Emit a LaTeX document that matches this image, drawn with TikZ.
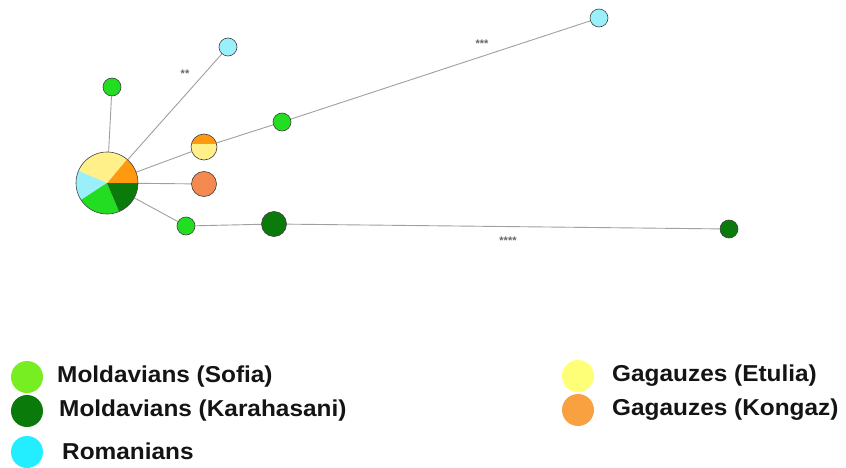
\documentclass[tikz,border=0pt]{standalone}
\usepackage{fontspec}
\setmainfont{Liberation Sans}
\usetikzlibrary{backgrounds}
\definecolor{sofia}{HTML}{22DD22}
\definecolor{sofiaL}{HTML}{77EE22}
\definecolor{kara}{HTML}{0A7A0A}
\definecolor{roman}{HTML}{99F0FA}
\definecolor{romanL}{HTML}{22EEFF}
\definecolor{etul}{HTML}{FFF08A}
\definecolor{etulL}{HTML}{FFFF77}
\definecolor{kong}{HTML}{FF9A10}
\definecolor{kongN}{HTML}{F58A50}
\definecolor{kongL}{HTML}{F9A040}
\definecolor{edgec}{HTML}{A0A0A0}
\tikzset{
  hap/.style={circle, draw=black!75, line width=0.6pt, inner sep=0pt, minimum size=#1},
  edge/.style={draw=edgec, line width=0.9pt},
  star/.style={font=\fontsize{11}{11}\selectfont\bfseries, text=black!60},
  legdot/.style={circle, inner sep=0pt, minimum size=32pt},
  legtxt/.style={anchor=west, font=\fontsize{23}{23}\selectfont\bfseries, text=black!92, xscale=1.06, inner sep=0pt}
}
\begin{document}
\begin{tikzpicture}[x=1pt,y=-1pt]
\useasboundingbox (0,0) rectangle (846,468);
% pie slices
\coordinate (pc) at (107,183);
\fill[kong] (pc) -- ++(0:31) arc (0:-50:31) -- cycle;
\fill[etul] (pc) -- ++(-50:31) arc (-50:-157:31) -- cycle;
\fill[roman] (pc) -- ++(-157:31) arc (-157:-213:31) -- cycle;
\fill[sofia] (pc) -- ++(-213:31) arc (-213:-293:31) -- cycle;
\fill[kara] (pc) -- ++(-293:31) arc (-293:-360:31) -- cycle;
\node[hap=62pt] (pie) at (pc) {};
% half node
\coordinate (hc) at (204,147);
\fill[etul] (hc) circle (13);
\begin{scope}
\clip (191,130) rectangle (217,144);
\fill[kong] (hc) circle (13);
\end{scope}
\node[hap=26pt] (half) at (hc) {};
% other nodes
\node[hap=18pt, fill=sofia] (g1) at (112,87) {};
\node[hap=18pt, fill=roman] (c1) at (228,47) {};
\node[hap=18pt, fill=sofia] (g2) at (282,122) {};
\node[hap=18pt, fill=roman] (c2) at (599,18) {};
\node[hap=25pt, fill=kongN] (k1) at (204,184) {};
\node[hap=18pt, fill=sofia] (g3) at (186,226) {};
\node[hap=25pt, fill=kara] (d1) at (274,224) {};
\node[hap=18pt, fill=kara] (d2) at (729,229) {};
% edges
\begin{scope}[on background layer]
\fill[white] (0,0) rectangle (846,468);
\draw[edge] (pie) -- (g1);
\draw[edge] (pie) -- (c1);
\draw[edge] (pie) -- (half);
\draw[edge] (half) -- (g2);
\draw[edge] (g2) -- (c2);
\draw[edge] (pie) -- (k1);
\draw[edge] (pie) -- (g3);
\draw[edge] (g3) -- (d1);
\draw[edge] (d1) -- (d2);
\end{scope}
% labels
\node[star] (s2) at (185,74) {**};
\node[star] (s3) at (482,44) {***};
\node[star] (s4) at (508,241) {****};
% legend
\node[legdot, fill=sofiaL] (l1) at (27,377) {};
\node[legdot, fill=kara] (l2) at (27,411) {};
\node[legdot, fill=romanL] (l3) at (27,452) {};
\node[legtxt] (t1) at (57,377) {Moldavians (Sofia)};
\node[legtxt] (t2) at (59,411) {Moldavians (Karahasani)};
\node[legtxt] (t3) at (62,451) {Romanians};
\node[legdot, fill=etulL] (l4) at (578,376) {};
\node[legdot, fill=kongL] (l5) at (578,410) {};
\node[legtxt] (t4) at (612,376) {Gagauzes (Etulia)};
\node[legtxt] (t5) at (612,410) {Gagauzes (Kongaz)};
\end{tikzpicture}
\end{document}
